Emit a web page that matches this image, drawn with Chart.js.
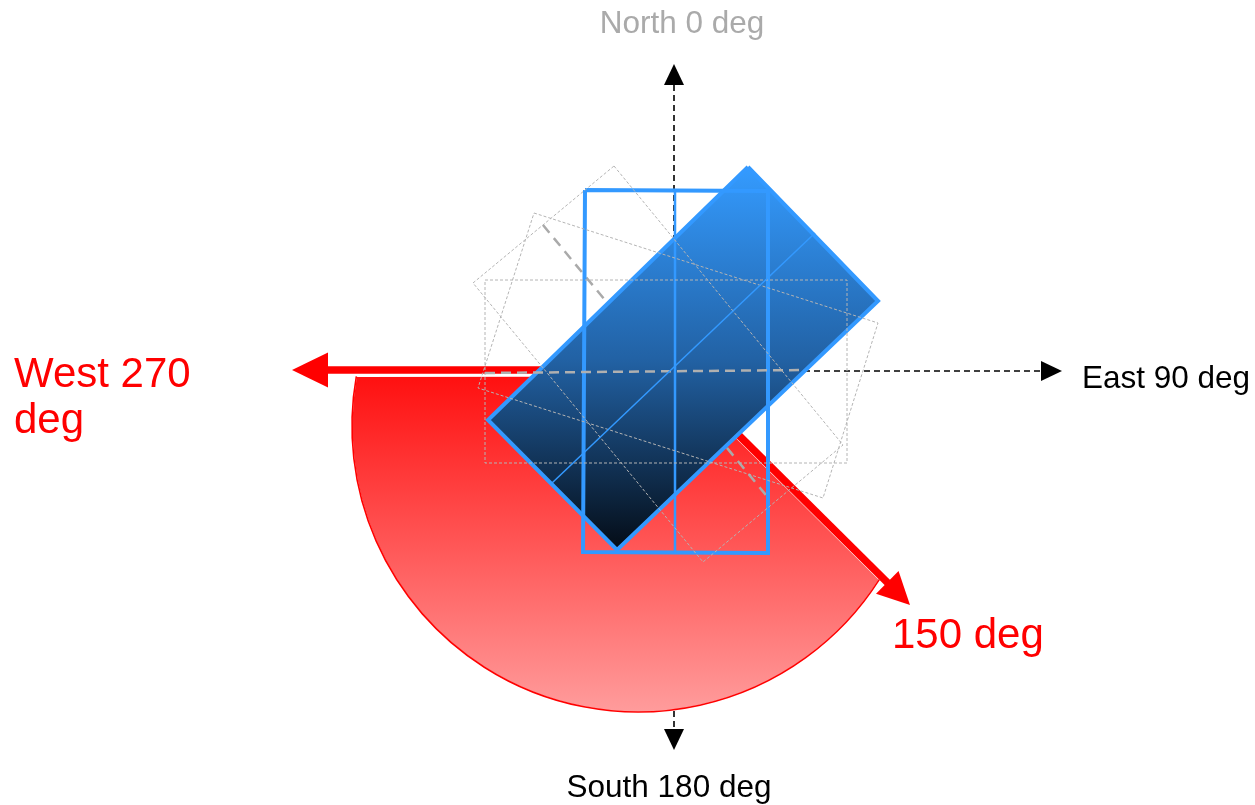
<!DOCTYPE html>
<html><head>
<meta charset="utf-8">
<script src="https://cdn.jsdelivr.net/npm/chart.js@4.4.0/dist/chart.umd.min.js"></script>
<style>
  html, body { margin: 0; padding: 0; background: #fff; }
  #wrap { width: 1255px; height: 805px; }
</style>
</head>
<body>
<div id="wrap"><canvas id="compass"></canvas></div>
<script>
// plot units: origin at the compass centre, y up, roughly 1 unit per px
var xRange = [-674, 581];
var yRange = [-434, 371];

// compass arrows: [tailX, tailY, tipX, tipY]
var axisArrows = [[0, 0, 0, 307], [0, 0, 388, 0], [0, 0, 0, -379]];
var redArrows = [[0, 1, -382, 1], [0, 0, 236, -234]];

// azimuth wedge (west 270 round to 150)
var wedgeVertex = [0, -5];
var wedgeArcCentre = [-36, -55];
var wedgeRadius = 286;
var wedgeAngles = [-32.5, 170];   // degrees, counter-clockwise from east

// panel outlines, corner by corner
var panelTilted = [[74, 204], [204, 70], [-57, -179], [-186, -49]];
var panelUpright = [[-89, 181], [94, 180], [94, -182], [-91, -181]];
var panelUprightMid = [[1, 181], [1, -182]];
var panelTiltedMid = [[-122, -112], [141, 138]];
var ghostA = [[-189, 91], [173, 91], [173, -92], [-189, -92]];
var ghostB = [[-140, 158], [204, 48], [149, -127], [-196, -17]];
var ghostC = [[-60, 205], [169, -74], [29, -191], [-201, 88]];
var ghostAxisDiag = [[-131, 146], [96, -129]];
var ghostAxisFlat = [[-189, -2], [131, 1]];

// text labels
var labelTexts = ["North 0 deg", "East 90 deg", "South 180 deg", "West 270", "deg", "150 deg"];
var labelX = [8, 408, -5, -660, -660, 218];
var labelY = [338, -17, -426, -16, -62, -277];

var labelStyle = [
  {align: "center", color: "#aaaaaa", size: 31.5},
  {align: "left", color: "#000000", size: 31.5},
  {align: "center", color: "#000000", size: 31.5},
  {align: "left", color: "#ff0000", size: 42},
  {align: "left", color: "#ff0000", size: 42},
  {align: "left", color: "#ff0000", size: 42}
];

function pts(list, close) {
  var out = list.map(function (p) { return {x: p[0], y: p[1]}; });
  if (close) out.push({x: list[0][0], y: list[0][1]});
  return out;
}

function poly(list, close, style) {
  var ds = {data: pts(list, close), showLine: true, pointRadius: 0, fill: false,
            borderJoinStyle: "miter", borderCapStyle: "butt"};
  for (var k in style) ds[k] = style[k];
  return ds;
}

function arrow(ctx, sx, sy, a, color, width, dash, headLen, headHalf) {
  var x0 = sx.getPixelForValue(a[0]), y0 = sy.getPixelForValue(a[1]);
  var x1 = sx.getPixelForValue(a[2]), y1 = sy.getPixelForValue(a[3]);
  var len = Math.hypot(x1 - x0, y1 - y0);
  var ux = (x1 - x0) / len, uy = (y1 - y0) / len;
  var bx = x1 - ux * headLen, by = y1 - uy * headLen;
  ctx.save();
  ctx.strokeStyle = color;
  ctx.lineWidth = width;
  ctx.setLineDash(dash);
  ctx.beginPath();
  ctx.moveTo(x0, y0);
  ctx.lineTo(bx + ux * 1, by + uy * 1);
  ctx.stroke();
  ctx.setLineDash([]);
  ctx.fillStyle = color;
  ctx.beginPath();
  ctx.moveTo(x1, y1);
  ctx.lineTo(bx - uy * headHalf, by + ux * headHalf);
  ctx.lineTo(bx + uy * headHalf, by - ux * headHalf);
  ctx.closePath();
  ctx.fill();
  ctx.restore();
}

var underlay = {
  id: "underlay",
  beforeDatasetsDraw: function (chart) {
    var ctx = chart.ctx, sx = chart.scales.x, sy = chart.scales.y;
    var unit = sx.getPixelForValue(1) - sx.getPixelForValue(0);

    // black compass axes sit under the wedge
    axisArrows.forEach(function (a) {
      arrow(ctx, sx, sy, a, "#000000", 1.6, [6, 4], 21, 10);
    });

    // wedge
    var vx = sx.getPixelForValue(wedgeVertex[0]), vy = sy.getPixelForValue(wedgeVertex[1]);
    var cx = sx.getPixelForValue(wedgeArcCentre[0]), cy = sy.getPixelForValue(wedgeArcCentre[1]);
    var r = wedgeRadius * unit;
    var a0 = -wedgeAngles[0] * Math.PI / 180, a1 = -wedgeAngles[1] * Math.PI / 180;
    var g = ctx.createLinearGradient(0, vy, 0, cy + r);
    g.addColorStop(0, "rgb(255,16,16)");
    g.addColorStop(1, "rgb(255,156,156)");
    ctx.save();
    ctx.beginPath();
    ctx.moveTo(vx, vy);
    ctx.arc(cx, cy, r, a0, a1, false);
    ctx.closePath();
    ctx.fillStyle = g;
    ctx.fill();
    ctx.strokeStyle = "#ffffff";
    ctx.lineWidth = 1.2;
    ctx.stroke();
    ctx.beginPath();
    ctx.arc(cx, cy, r, a0, a1, false);
    ctx.strokeStyle = "#ff0000";
    ctx.lineWidth = 1.6;
    ctx.stroke();
    ctx.restore();

    redArrows.forEach(function (a, i) {
      arrow(ctx, sx, sy, a, "#ff0000", 7.5, [], i === 0 ? 36 : 32, i === 0 ? 17.5 : 16);
    });
  },
  afterDraw: function (chart) {
    var ctx = chart.ctx, sx = chart.scales.x, sy = chart.scales.y;
    ctx.save();
    ctx.textBaseline = "alphabetic";
    labelTexts.forEach(function (t, i) {
      var st = labelStyle[i];
      ctx.font = st.size + "px 'Liberation Sans', Arial, sans-serif";
      ctx.fillStyle = st.color;
      ctx.textAlign = st.align;
      ctx.fillText(t, sx.getPixelForValue(labelX[i]), sy.getPixelForValue(labelY[i]));
    });
    ctx.restore();
  }
};

function panelGradient(context) {
  var chart = context.chart;
  if (!chart.chartArea) return "#3399ff";
  var sy = chart.scales.y;
  var g = chart.ctx.createLinearGradient(0, sy.getPixelForValue(204), 0, sy.getPixelForValue(-179));
  g.addColorStop(0, "rgb(52,155,255)");
  g.addColorStop(0.5, "rgb(34,98,165)");
  g.addColorStop(1, "rgb(4,12,22)");
  return g;
}

// bottom layer first
var layers = [
  poly(ghostAxisDiag, false, {borderColor: "#aaaaaa", borderWidth: 2.5, borderDash: [10, 7]}),
  poly(panelTilted, true, {borderColor: "#3399ff", borderWidth: 4, fill: "shape", backgroundColor: panelGradient}),
  poly(panelUpright, true, {borderColor: "#3399ff", borderWidth: 4}),
  poly(panelUprightMid, false, {borderColor: "#3399ff", borderWidth: 2.5}),
  poly(ghostA, true, {borderColor: "#b4b4b4", borderWidth: 1, borderDash: [3, 2]}),
  poly(ghostB, true, {borderColor: "#b4b4b4", borderWidth: 1, borderDash: [3, 2]}),
  poly(ghostC, true, {borderColor: "#b4b4b4", borderWidth: 1, borderDash: [3, 2]}),
  poly(ghostAxisFlat, false, {borderColor: "#b0b0b0", borderWidth: 2.5, borderDash: [10, 6]}),
  poly(panelTiltedMid, false, {borderColor: "#3399ff", borderWidth: 1.5})
];
layers.forEach(function (ds, i) { ds.order = -i; });

new Chart(document.getElementById("compass"), {
  type: "scatter",
  data: {datasets: layers},
  options: {
    responsive: true,
    maintainAspectRatio: false,
    animation: false,
    layout: {padding: 0},
    plugins: {legend: {display: false}, tooltip: {enabled: false}},
    scales: {
      x: {type: "linear", min: xRange[0], max: xRange[1], display: false},
      y: {type: "linear", min: yRange[0], max: yRange[1], display: false}
    }
  },
  plugins: [underlay]
});
</script>
</body>
</html>
